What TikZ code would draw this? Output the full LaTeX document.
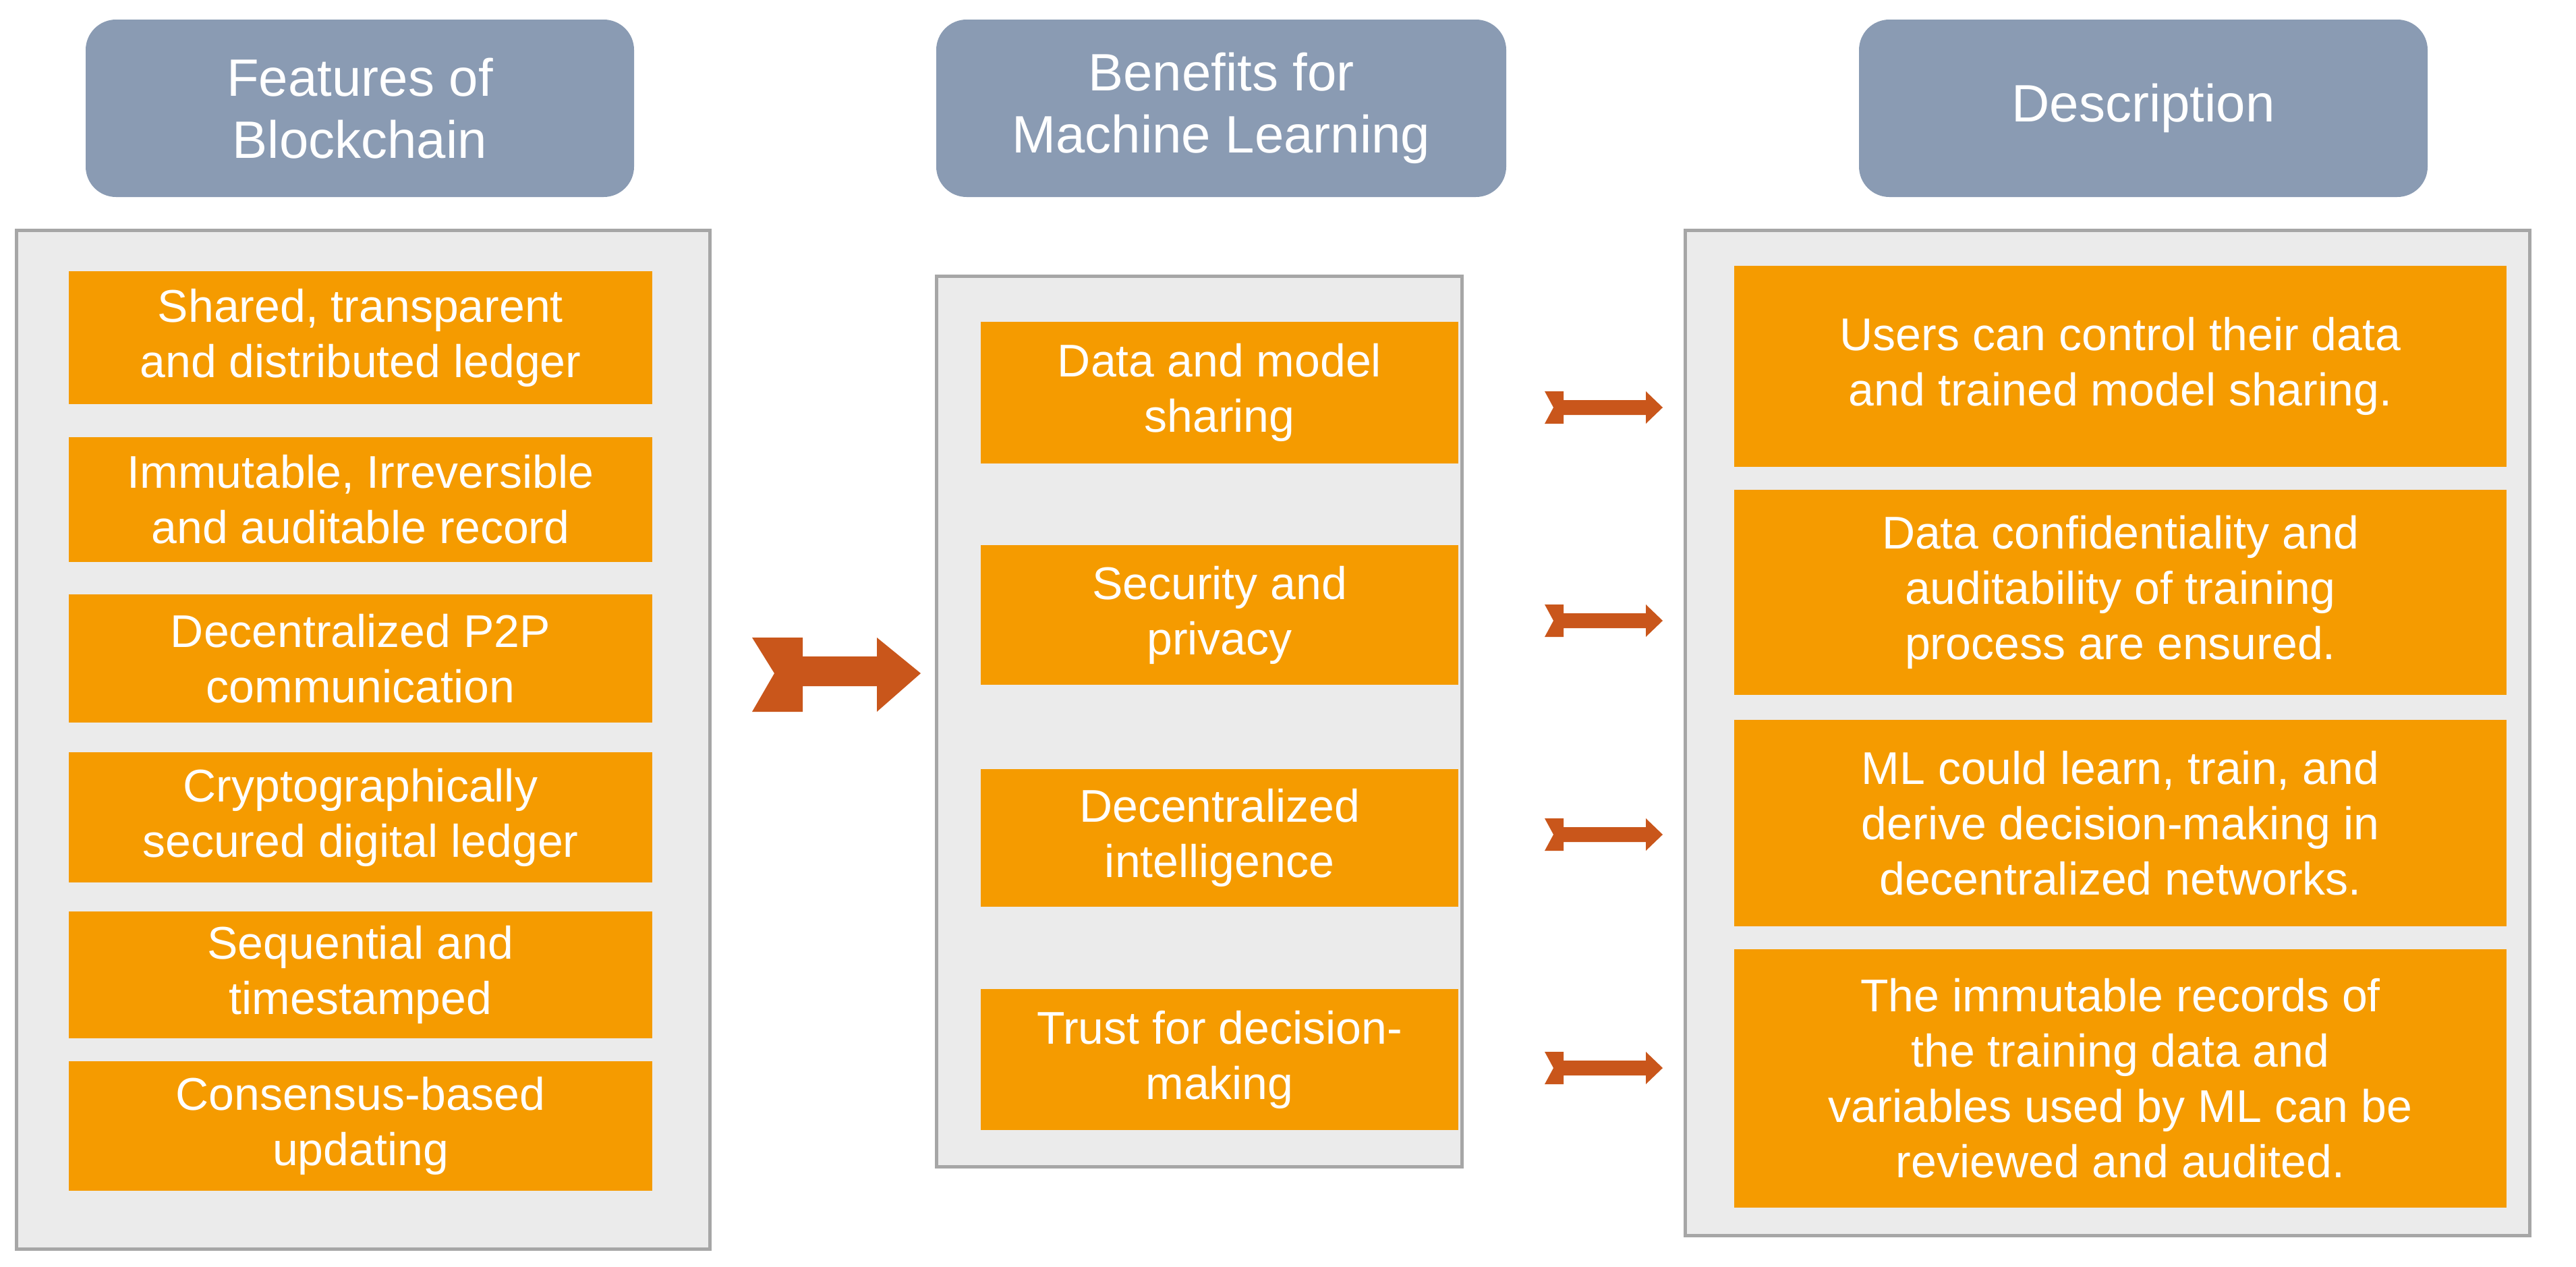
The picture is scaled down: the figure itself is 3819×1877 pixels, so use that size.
\documentclass[tikz,border=0pt]{standalone}
\usepackage{fontspec}
\setmainfont{Liberation Sans}
\definecolor{hdr}{HTML}{8A9BB3}
\definecolor{org}{HTML}{F59B00}
\definecolor{pan}{HTML}{EBEBEB}
\definecolor{pbd}{HTML}{A6A6A6}
\definecolor{arr}{HTML}{C9561B}
\begin{document}
\begin{tikzpicture}[x=1pt,y=-1pt,
  hdr/.style={fill=hdr,rounded corners=45pt,text=white!94!hdr,font=\fontsize{78}{92}\selectfont,align=center},
  pan/.style={fill=pan,draw=pbd,line width=5pt},
  box/.style={fill=org,text=white,font=\fontsize{68}{82}\selectfont,align=center},
  arr/.style={fill=arr}]
\useasboundingbox (0,0) rectangle (3819,1877);
\newcommand{\bx}[6]{\path[#6] (#2,#3) rectangle (#4,#5) node[midway,inner sep=0pt] (#1) {};}
% headers
\path[hdr] (127,29) rectangle (940,292) node[midway,text=white,inner sep=0pt] (h1) {Features of\\Blockchain};
\path[hdr] (1388,29) rectangle (2233,292) node[midway,text=white,inner sep=0pt] (h2) {Benefits for\\Machine Learning};
\path[hdr] (2756,29) rectangle (3599,292) node[midway,text=white,inner sep=0pt] (h3) {Description};
% panels
\path[pan] (24,341) rectangle (1052,1851) node[midway] (p1) {};
\path[pan] (1388,409) rectangle (2167,1729) node[midway] (p2) {};
\path[pan] (2498,341) rectangle (3750,1831) node[midway] (p3) {};
% left boxes
\foreach \n/\a/\b/\t in {l1/402/599/{Shared, transparent\\and distributed ledger},
  l2/648/833/{Immutable, Irreversible\\and auditable record},
  l3/881/1071/{Decentralized  P2P\\communication},
  l4/1115/1308/{Cryptographically\\secured digital ledger},
  l5/1351/1539/{Sequential and\\timestamped},
  l6/1573/1765/{Consensus-based\\updating}}{
  \path[box] (102,\a) rectangle (967,\b) node[midway,box,fill=none,inner sep=0pt] (\n) {\t};}
\foreach \n/\a/\b/\t in {m1/477/687/{Data and model\\sharing},
  m2/808/1015/{Security and\\privacy},
  m3/1140/1344/{Decentralized\\intelligence},
  m4/1466/1675/{Trust for decision-\\making}}{
  \path[box] (1454,\a) rectangle (2162,\b) node[midway,box,fill=none,inner sep=0pt] (\n) {\t};}
\foreach \n/\a/\b/\t in {r1/394/692/{Users can control their data\\and trained model sharing.},
  r2/726/1030/{Data confidentiality and\\auditability of  training\\process are ensured.},
  r3/1067/1373/{ML could learn, train, and\\derive decision-making  in\\decentralized networks.},
  r4/1407/1790/{The immutable records of\\the training data and\\variables used by ML  can be\\reviewed and audited.}}{
  \path[box] (2571,\a) rectangle (3716,\b) node[midway,box,fill=none,inner sep=0pt] (\n) {\t};}
% big arrow
\fill[arr] (1115,945) -- (1190,945) -- (1190,973) -- (1300,973) -- (1300,945) -- (1365,998)
  -- (1300,1055) -- (1300,1017) -- (1190,1017) -- (1190,1055) -- (1115,1055) -- (1148,998) -- cycle;
% small arrows
\foreach \c in {604,920,1237,1583}{
\fill[arr] (2290,\c-24) -- (2318,\c-24) -- (2318,\c-11) -- (2440,\c-11) -- (2440,\c-24) -- (2465,\c)
  -- (2440,\c+24) -- (2440,\c+11) -- (2318,\c+11) -- (2318,\c+24) -- (2290,\c+24) -- (2303,\c) -- cycle;}
\end{tikzpicture}
\end{document}
